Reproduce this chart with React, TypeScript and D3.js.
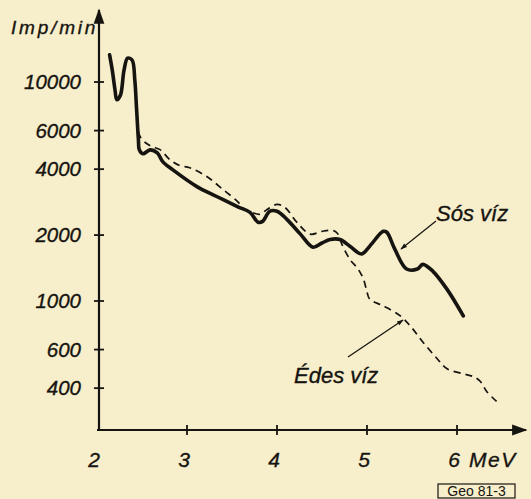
import React from "react";
import * as d3 from "d3";

const xTicks = [2, 3, 4, 5, 6];
const yTicks = [400, 600, 1000, 2000, 4000, 6000, 10000];

const sosEnergy = [2.14, 2.17, 2.2, 2.22, 2.26, 2.3, 2.34, 2.39, 2.42, 2.44, 2.46, 2.47, 2.51, 2.59, 2.67, 2.73, 2.84, 3.11, 3.33, 3.56, 3.7, 3.79, 3.84, 3.92, 4.0, 4.11, 4.26, 4.4, 4.5, 4.59, 4.7, 4.81, 4.94, 5.03, 5.18, 5.22, 5.31, 5.44, 5.56, 5.62, 5.73, 5.89, 6.07];
const sosCounts = [13300, 11300, 9200, 8300, 8700, 11300, 12850, 12600, 10200, 7500, 5450, 4900, 4700, 4900, 4750, 4330, 3980, 3330, 3000, 2700, 2540, 2290, 2310, 2570, 2570, 2360, 2020, 1760, 1840, 1910, 1910, 1780, 1640, 1780, 2080, 2060, 1720, 1400, 1400, 1470, 1370, 1130, 855];

const edesEnergy = [2.46, 2.48, 2.54, 2.61, 2.7, 2.81, 2.92, 3.03, 3.22, 3.4, 3.56, 3.64, 3.72, 3.81, 3.89, 4.0, 4.09, 4.22, 4.37, 4.5, 4.62, 4.67, 4.72, 4.81, 4.9, 4.96, 5.0, 5.03, 5.18, 5.37, 5.48, 5.62, 5.78, 5.89, 6.07, 6.18, 6.26, 6.33, 6.44];
const edesCounts = [5930, 5620, 5280, 5070, 4910, 4420, 4150, 4060, 3700, 3230, 2850, 2620, 2540, 2490, 2620, 2760, 2670, 2290, 2020, 2080, 2100, 2040, 1820, 1550, 1400, 1260, 1100, 1020, 950, 855, 770, 650, 545, 490, 465, 452, 429, 386, 348];

const W = 531;
const H = 499;
const INK = "#161410";
const PAPER = "#f7eecb";
const FONT = "'Liberation Sans', 'DejaVu Sans', sans-serif";

export default function App() {
  const x = d3.scaleLinear().domain([2, 6]).range([97, 457]);
  const y = d3.scaleLog().domain([1000, 10000]).range([301, 82]);
  const axisX = 99;
  const axisY = 430;

  const line = d3
    .line<[number, number]>()
    .x((d) => x(d[0]))
    .y((d) => y(d[1]))
    .curve(d3.curveCatmullRom.alpha(0.5));

  const sos = sosEnergy.map((e, i) => [e, sosCounts[i]] as [number, number]);
  const edes = edesEnergy.map((e, i) => [e, edesCounts[i]] as [number, number]);

  const textStyle = { fontFamily: FONT, fontStyle: "italic" as const, fill: INK, stroke: INK, strokeWidth: 0.35 };

  return (
    <svg width={W} height={H} style={{ position: "absolute", left: 0, top: 0, background: PAPER }}>
      <defs>
        <marker id="arr" viewBox="0 0 10 10" refX="9" refY="5" markerWidth="9" markerHeight="7" orient="auto">
          <path d="M0,1.5 L10,5 L0,8.5 z" fill={INK} />
        </marker>
        <marker id="arrs" viewBox="0 0 10 10" refX="9" refY="5" markerWidth="6" markerHeight="5" orient="auto">
          <path d="M0,1.5 L10,5 L0,8.5 z" fill={INK} />
        </marker>
      </defs>
      <rect x={0} y={0} width={W} height={H} fill={PAPER} />

      {/* axes */}
      <line x1={axisX} y1={axisY} x2={axisX} y2={10} stroke={INK} strokeWidth={2.2} markerEnd="url(#arr)" />
      <line x1={axisX - 2} y1={axisY} x2={526} y2={axisY} stroke={INK} strokeWidth={2.2} markerEnd="url(#arr)" />

      {yTicks.map((t) => (
        <g key={"y" + t}>
          <line x1={axisX - 5} x2={axisX + 5} y1={y(t)} y2={y(t)} stroke={INK} strokeWidth={1.8} />
          <text x={81} y={y(t) + 7} textAnchor="end" fontSize={20.5} {...textStyle}>
            {t}
          </text>
        </g>
      ))}
      {xTicks.map((t) => (
        <g key={"x" + t}>
          {t > 2 && <line x1={x(t)} x2={x(t)} y1={axisY - 5} y2={axisY + 5} stroke={INK} strokeWidth={1.8} />}
          <text x={x(t) - 3} y={467} textAnchor="middle" fontSize={21} {...textStyle}>
            {t}
          </text>
        </g>
      ))}
      <text x={469} y={467} fontSize={21} letterSpacing={1.5} {...textStyle}>MeV</text>
      <text x={11} y={34} fontSize={19} letterSpacing={2.8} {...textStyle}>Imp/min</text>

      {/* data */}
      <path d={line(edes) || ""} fill="none" stroke={INK} strokeWidth={1.7} strokeDasharray="7,5" />
      <path d={line(sos) || ""} fill="none" stroke={INK} strokeWidth={3.6} strokeLinejoin="round" strokeLinecap="round" />

      {/* annotations */}
      <text x={436} y={221} fontSize={22} {...textStyle}>Sós víz</text>
      <line x1={436} y1={221} x2={401} y2={249} stroke={INK} strokeWidth={1.3} markerEnd="url(#arrs)" />
      <text x={294} y={383} fontSize={22} {...textStyle}>Édes víz</text>
      <line x1={348} y1={357} x2={403} y2={320} stroke={INK} strokeWidth={1.3} markerEnd="url(#arrs)" />

      {/* catalogue tag */}
      <rect x={438} y={484} width={77} height={14} fill="none" stroke={INK} strokeWidth={1.2} />
      <text x={476.5} y={496} textAnchor="middle" fontSize={14} fontFamily={FONT} fill={INK}>Geo 81-3</text>
    </svg>
  );
}
